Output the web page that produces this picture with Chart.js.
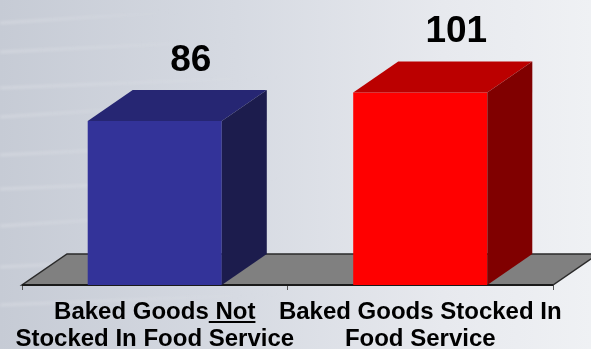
<!DOCTYPE html>
<html>
<head>
<meta charset="utf-8">
<script src="https://cdn.jsdelivr.net/npm/chart.js@4"></script>
<style>
  html, body { margin: 0; padding: 0; }
  body {
    width: 591px; height: 349px; overflow: hidden;
    background: linear-gradient(90deg, #c6cbd5 0%, #d6dae2 40%, #e7e9ee 75%, #eff1f4 100%);
  }
  #wrap { position: relative; width: 591px; height: 349px; }
</style>
</head>
<body>
<div id="wrap"><canvas id="myChart" width="591" height="349"></canvas></div>
<script>
const categories = [
  ["Baked Goods Not", "Stocked In Food Service"],
  ["Baked Goods Stocked In", "Food Service"],
];
const counts = [86, 101];
const frontColors = ["#333399", "#ff0000"];
const topColors = ["#262673", "#bb0000"];
const sideColors = ["#1c1c4d", "#800000"];

// depth of the 3D extrusion
const DX = 45;
const DY = -31;

const FONT = "'Liberation Sans', Arial, sans-serif";

// faint light streaks across the backdrop
const backdropPlugin = {
  id: "backdrop",
  beforeDraw(chart) {
    const { ctx } = chart;
    ctx.save();
    ctx.lineWidth = 3;
    ctx.filter = "blur(1.5px)";
    const ys = [18, 47, 83, 112, 150, 184, 221, 262, 300];
    ys.forEach((y0, k) => {
      const len = 180 + (k % 3) * 50;
      const g = ctx.createLinearGradient(0, 0, len, 0);
      g.addColorStop(0, "rgba(255,255,255,0.22)");
      g.addColorStop(1, "rgba(255,255,255,0)");
      ctx.strokeStyle = g;
      ctx.beginPath();
      ctx.moveTo(0, y0 + 5);
      ctx.quadraticCurveTo(len / 2, y0 - 1, len, y0 - 6);
      ctx.stroke();
    });
    ctx.restore();
  },
};

// grey floor under the bars
const floorPlugin = {
  id: "floor",
  beforeDatasetsDraw(chart) {
    const { ctx, chartArea } = chart;
    const y = chartArea.bottom;
    const l = chartArea.left;
    const r = chartArea.right;
    ctx.save();
    ctx.beginPath();
    ctx.moveTo(l, y);
    ctx.lineTo(r, y);
    ctx.lineTo(r + DX, y + DY);
    ctx.lineTo(l + DX, y + DY);
    ctx.closePath();
    ctx.fillStyle = "#808080";
    ctx.fill();
    ctx.strokeStyle = "#2a2a2a";
    ctx.lineWidth = 1.5;
    ctx.stroke();
    ctx.beginPath();
    ctx.moveTo(l, y);
    ctx.lineTo(r, y);
    ctx.lineWidth = 2;
    ctx.strokeStyle = "#1a1a1a";
    ctx.stroke();
    ctx.restore();
  },
};

// top and side faces of each bar, plus the value above it
const boxPlugin = {
  id: "box",
  afterDatasetsDraw(chart) {
    const { ctx } = chart;
    const meta = chart.getDatasetMeta(0);
    ctx.save();
    meta.data.forEach((bar, i) => {
      const l = bar.x - bar.width / 2;
      const r = bar.x + bar.width / 2;
      const t = bar.y;
      const b = bar.base;
      ctx.fillStyle = topColors[i];
      ctx.beginPath();
      ctx.moveTo(l, t);
      ctx.lineTo(l + DX, t + DY);
      ctx.lineTo(r + DX, t + DY);
      ctx.lineTo(r, t);
      ctx.closePath();
      ctx.fill();
      ctx.fillStyle = sideColors[i];
      ctx.beginPath();
      ctx.moveTo(r, t);
      ctx.lineTo(r + DX, t + DY);
      ctx.lineTo(r + DX, b + DY);
      ctx.lineTo(r, b);
      ctx.closePath();
      ctx.fill();

      ctx.fillStyle = "#000";
      ctx.font = "bold 37px " + FONT;
      ctx.textAlign = "center";
      ctx.textBaseline = "alphabetic";
      ctx.fillText(String(counts[i]), bar.x + 36, t + DY - 19);
    });
    ctx.restore();
  },
};

// underline the word "Not" in the first category label
const underlinePlugin = {
  id: "underline",
  afterDraw(chart) {
    const { ctx } = chart;
    const xs = chart.scales.x;
    const cx = xs.getPixelForTick(0);
    const line = categories[0][0];
    ctx.save();
    ctx.font = "bold 24px " + FONT;
    const w = ctx.measureText(line).width;
    const pre = ctx.measureText("Baked Goods").width;
    const left = cx - w / 2;
    ctx.fillStyle = "#000";
    ctx.fillRect(left + pre, 321, w - pre, 2);
    ctx.restore();
  },
};

const ctx = document.getElementById("myChart").getContext("2d");

const myChart = new Chart(ctx, {
  type: "bar",
  data: {
    labels: categories,
    datasets: [
      {
        data: counts,
        backgroundColor: frontColors,
        borderWidth: 0,
        categoryPercentage: 1,
        barPercentage: 0.505,
      },
    ],
  },
  options: {
    responsive: false,
    animation: false,
    layout: { padding: { left: 22, right: 38, top: 18, bottom: 0 } },
    plugins: {
      legend: { display: false },
      tooltip: { enabled: false },
    },
    scales: {
      y: {
        display: false,
        min: 0,
        max: 140,
      },
      x: {
        afterFit(scale) {
          scale.height = 64;
        },
        border: { display: false },
        grid: {
          offset: true,
          drawOnChartArea: false,
          drawTicks: true,
          tickLength: 5,
          color: "#555",
        },
        ticks: {
          color: "#000",
          padding: 9,
          maxRotation: 0,
          autoSkip: false,
          font: { family: FONT, size: 24, weight: "bold", lineHeight: 27 / 24 },
        },
      },
    },
  },
  plugins: [backdropPlugin, floorPlugin, boxPlugin, underlinePlugin],
});
</script>
</body>
</html>
